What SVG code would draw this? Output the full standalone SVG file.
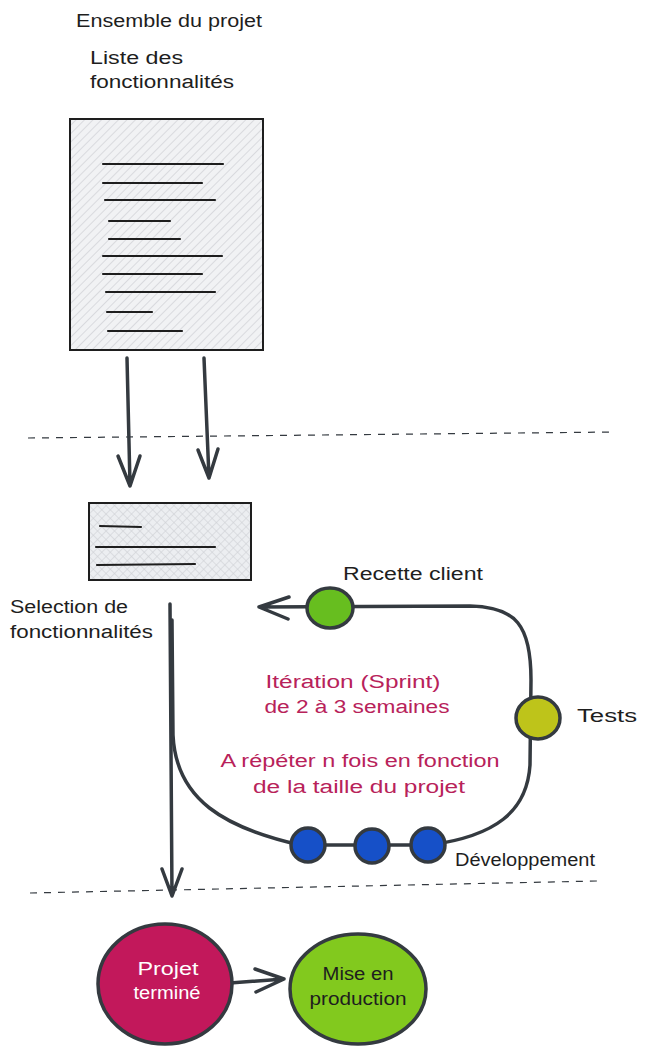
<svg xmlns="http://www.w3.org/2000/svg" width="647" height="1054" viewBox="0 0 647 1054">
<defs>
<pattern id="hatch" patternUnits="userSpaceOnUse" width="6" height="6" patternTransform="rotate(45)">
<rect width="6" height="6" fill="#f1f2f4"/>
<line x1="0" y1="0" x2="0" y2="6" stroke="#c9cbcf" stroke-width="1.2"/>
</pattern>
<pattern id="cross" patternUnits="userSpaceOnUse" width="6" height="6" patternTransform="rotate(45)">
<rect width="6" height="6" fill="#eceef1"/>
<line x1="0" y1="0" x2="0" y2="6" stroke="#cfd1d5" stroke-width="1.2"/>
<line x1="0" y1="0" x2="6" y2="0" stroke="#cfd1d5" stroke-width="1.2"/>
</pattern>
</defs>
<style>
text{font-family:"Liberation Sans",Arial,sans-serif;font-size:18px;fill:#1e1e1e}
.mag{fill:#b8225a}
.c{text-anchor:middle}
.doc{stroke:#1e1e1e;stroke-width:2}
.txl{stroke:#1e1e1e;stroke-width:2.2;stroke-linecap:round}
.con{fill:none;stroke:#343a40;stroke-width:3.5;stroke-linecap:round;stroke-linejoin:round}
.dash{fill:none;stroke:#343a40;stroke-width:1.2;stroke-dasharray:7 7}
.dot{stroke:#343a40;stroke-width:3.5}
</style>

<g id="title">
<text x="76" y="27" textLength="186" lengthAdjust="spacingAndGlyphs">Ensemble du projet</text>
</g>

<g id="liste-label">
<text x="90" y="64" textLength="93" lengthAdjust="spacingAndGlyphs">Liste des</text>
<text x="90" y="88" textLength="144" lengthAdjust="spacingAndGlyphs">fonctionnalités</text>
</g>

<g id="liste-doc">
<rect class="doc" x="70" y="119" width="193" height="231" fill="url(#hatch)"/>
<line class="txl" x1="103" y1="164" x2="223" y2="164"/>
<line class="txl" x1="103" y1="183" x2="202" y2="183"/>
<line class="txl" x1="105" y1="200" x2="215" y2="200"/>
<line class="txl" x1="109" y1="221" x2="170" y2="221"/>
<line class="txl" x1="109" y1="239" x2="180" y2="239"/>
<line class="txl" x1="103" y1="256" x2="222" y2="256"/>
<line class="txl" x1="103" y1="274" x2="202" y2="274"/>
<line class="txl" x1="106" y1="292" x2="215" y2="292"/>
<line class="txl" x1="107" y1="312" x2="152" y2="312"/>
<line class="txl" x1="108" y1="331" x2="182" y2="331"/>
</g>

<g id="selection-doc">
<rect class="doc" x="89" y="503" width="162" height="77" fill="url(#cross)"/>
<line class="txl" x1="100" y1="526" x2="141" y2="527"/>
<line class="txl" x1="96" y1="547" x2="215" y2="547"/>
<line class="txl" x1="97" y1="565" x2="195" y2="564"/>
</g>

<g id="selection-label">
<text x="10" y="613" textLength="118" lengthAdjust="spacingAndGlyphs">Selection de</text>
<text x="10" y="638" textLength="143" lengthAdjust="spacingAndGlyphs">fonctionnalités</text>
</g>

<g id="iteration-label">
<text class="mag c" x="353" y="688" textLength="175" lengthAdjust="spacingAndGlyphs">Itération (Sprint)</text>
<text class="mag c" x="357" y="713" textLength="185" lengthAdjust="spacingAndGlyphs">de 2 à 3 semaines</text>
<text class="mag c" x="360" y="767" textLength="279" lengthAdjust="spacingAndGlyphs">A répéter n fois en fonction</text>
<text class="mag c" x="359" y="793" textLength="212" lengthAdjust="spacingAndGlyphs">de la taille du projet</text>
</g>

<g id="connectors">
<line class="dash" x1="28" y1="438" x2="615" y2="432"/>
<line class="dash" x1="30" y1="893" x2="597" y2="881"/>
<path class="con" d="M127,358 L130,485 M118,456 L130,486 L140,456"/>
<path class="con" d="M204,358 L209,478 M198,450 L209,478 L218,449"/>
<path class="con" d="M170,604 L172,896 M162,869 L172,896 L182,869"/>
<path class="con" d="M172,620 L173,735 C176,800 225,828 300,845 L430,845 C495,836 527,812 530,765 L531,680 C531,625 516,607 470,606 L259,607 M289,597 L259,607 L288,619"/>
<path class="con" d="M230,983 L284,979 M255,969 L284,979 L256,992"/>
</g>

<g id="recette">
<ellipse class="dot" cx="330" cy="608" rx="23" ry="20" fill="#67be1f"/>
<text x="343" y="580" textLength="140" lengthAdjust="spacingAndGlyphs">Recette client</text>
</g>

<g id="tests">
<ellipse class="dot" cx="538" cy="718" rx="22" ry="21" fill="#bec41a"/>
<text x="577" y="722" textLength="60" lengthAdjust="spacingAndGlyphs">Tests</text>
</g>

<g id="developpement">
<circle class="dot" cx="308" cy="845" r="17" fill="#1650c8"/>
<circle class="dot" cx="372" cy="846" r="17" fill="#1650c8"/>
<circle class="dot" cx="428" cy="845" r="17" fill="#1650c8"/>
<text x="455" y="866" textLength="140" lengthAdjust="spacingAndGlyphs">Développement</text>
</g>

<g id="projet-termine">
<ellipse class="dot" cx="165" cy="984" rx="67" ry="60" fill="#c2185b"/>
<text class="c" x="168" y="975" style="fill:#ffffff" textLength="61" lengthAdjust="spacingAndGlyphs">Projet</text>
<text class="c" x="167" y="999" style="fill:#ffffff" textLength="67" lengthAdjust="spacingAndGlyphs">terminé</text>
</g>

<g id="mise-en-production">
<ellipse class="dot" cx="358" cy="989" rx="68" ry="55" fill="#82c91e"/>
<text class="c" x="358" y="980" textLength="71" lengthAdjust="spacingAndGlyphs">Mise en</text>
<text class="c" x="358" y="1005" textLength="97" lengthAdjust="spacingAndGlyphs">production</text>
</g>
</svg>
